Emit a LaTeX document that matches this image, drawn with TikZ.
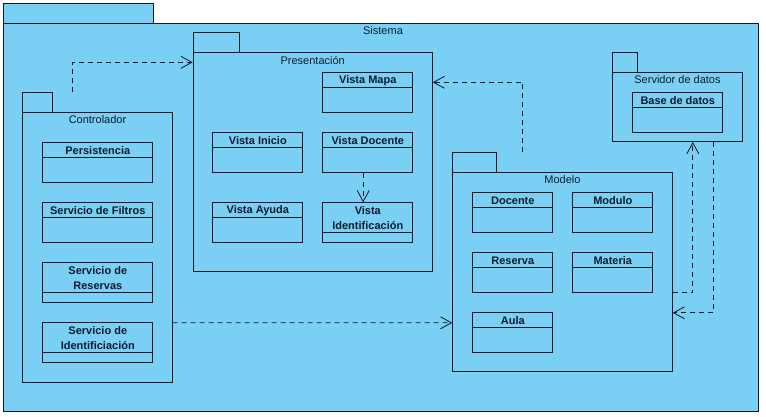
\documentclass[tikz,border=0pt]{standalone}
\usepackage{fontspec}
\setmainfont{Liberation Sans}
\usepackage{tikz}
\usetikzlibrary{arrows.meta,positioning,calc}
\definecolor{vpfill}{HTML}{7ACFF5}
\definecolor{vpline}{HTML}{101820}
\definecolor{vptext}{HTML}{0D1B2E}
\tikzset{
  pkg/.style={draw=vpline, fill=vpfill, line width=1pt, anchor=north west, inner sep=0pt},
  pkgtab/.style={pkg, minimum height=20pt},
  pkglabel/.style={anchor=north, inner sep=3.5pt, text=vptext, font=\fontsize{11}{13}\selectfont},
  cls/.style={draw=vpline, fill=vpfill, line width=1pt, anchor=north west, inner sep=0pt, minimum width=90pt, minimum height=40pt},
  clshead/.style={draw=vpline, line width=1pt, anchor=north, inner sep=0pt, minimum width=90pt, minimum height=15pt, align=center, text=vptext, font=\bfseries\fontsize{11}{15}\selectfont},
  dep/.style={draw=vpline, line width=0.8pt, dash pattern=on 5pt off 4pt, -{Straight Barb[length=11pt,width=12pt,line width=0.8pt]}}
}
\begin{document}
\begin{tikzpicture}[x=1pt, y=-1pt]
    \useasboundingbox (0,0) rectangle (766,416);

    % Sistema
    \node[pkgtab, minimum width=150.6pt] (sistab) at (2.7,2.7) {};
    \node[pkg, minimum width=755.6pt, minimum height=388pt] (sis) at (2.7,22.7) {};
    \node[pkglabel] (sis-l) at ([xshift=2pt]sis.north) {Sistema};

    % Presentacion
    \node[pkgtab, minimum width=46.6pt] (prestab) at (192.7,32.3) {};
    \node[pkg, minimum width=239pt, minimum height=218.7pt] (pres) at (192.7,52.3) {};
    \node[pkglabel] (pres-l) at (pres.north) {Presentación};

    % Controlador
    \node[pkgtab, minimum width=29.4pt] (ctrltab) at (22.3,92.3) {};
    \node[pkg, minimum width=149.4pt, minimum height=269.4pt] (ctrl) at (22.3,112.3) {};
    \node[pkglabel] (ctrl-l) at (ctrl.north) {Controlador};

    % Modelo
    \node[pkgtab, minimum width=43.4pt] (modtab) at (452.3,152.3) {};
    \node[pkg, minimum width=219.4pt, minimum height=198.7pt] (mod) at (452.3,172.3) {};
    \node[pkglabel] (mod-l) at (mod.north) {Modelo};

    % Servidor de datos
    \node[pkgtab, minimum width=25pt] (servtab) at (612.3,52.3) {};
    \node[pkg, minimum width=129.4pt, minimum height=68.7pt] (serv) at (612.3,72.3) {};
    \node[pkglabel] (serv-l) at (serv.north) {Servidor de datos};

    % clases de Presentacion
    \node[cls] (vmapa) at (322.3,72.3) {};
    \node[clshead] (vmapa-n) at (vmapa.north) {Vista Mapa};
    \node[cls] (vinicio) at (212.3,132.3) {};
    \node[clshead] (vinicio-n) at (vinicio.north) {Vista Inicio};
    \node[cls] (vdoc) at (322.3,132.3) {};
    \node[clshead] (vdoc-n) at (vdoc.north) {Vista Docente};
    \node[cls] (vayuda) at (212.3,202.3) {};
    \node[clshead] (vayuda-n) at (vayuda.north) {Vista Ayuda};
    \node[cls] (vident) at (322.3,202.3) {};
    \node[clshead, minimum height=30pt] (vident-n) at (vident.north) {Vista\\Identificación};

    % clases de Controlador
    \node[cls, minimum width=110pt] (persis) at (42.3,142.3) {};
    \node[clshead, minimum width=110pt] (persis-n) at (persis.north) {Persistencia};
    \node[cls, minimum width=110pt] (sfiltros) at (42.3,202.3) {};
    \node[clshead, minimum width=110pt] (sfiltros-n) at (sfiltros.north) {Servicio de Filtros};
    \node[cls, minimum width=110pt] (sreservas) at (42.3,262.3) {};
    \node[clshead, minimum width=110pt, minimum height=30pt] (sreservas-n) at (sreservas.north) {Servicio de\\Reservas};
    \node[cls, minimum width=110pt] (sident) at (42.3,322.3) {};
    \node[clshead, minimum width=110pt, minimum height=30pt] (sident-n) at (sident.north) {Servicio de\\Identificiación};

    % clases de Modelo
    \node[cls, minimum width=80pt] (docente) at (472.3,192.3) {};
    \node[clshead, minimum width=80pt] (docente-n) at (docente.north) {Docente};
    \node[cls, minimum width=80pt] (modulo) at (572.3,192.3) {};
    \node[clshead, minimum width=80pt] (modulo-n) at (modulo.north) {Modulo};
    \node[cls, minimum width=80pt] (reserva) at (472.3,252.3) {};
    \node[clshead, minimum width=80pt] (reserva-n) at (reserva.north) {Reserva};
    \node[cls, minimum width=80pt] (materia) at (572.3,252.3) {};
    \node[clshead, minimum width=80pt] (materia-n) at (materia.north) {Materia};
    \node[cls, minimum width=80pt] (aula) at (472.3,312.3) {};
    \node[clshead, minimum width=80pt] (aula-n) at (aula.north) {Aula};

    % clase de Servidor
    \node[cls] (bdatos) at (632.3,92.3) {};
    \node[clshead] (bdatos-n) at (bdatos.north) {Base de datos};

    % dependencias
    \draw[dep] ([xshift=-24.7pt]ctrl.north |- ctrltab.north) |- ([yshift=-10pt]pres.north west);
    \draw[dep] ([xshift=-39.7pt]mod.north |- modtab.north) |- ([yshift=-30pt]pres.north east);
    \draw[dep] ([yshift=-75.3pt]ctrl.east) -- ([yshift=-50.65pt]mod.west);
    \draw[dep] ([xshift=-4.6pt]vdoc.south) -- ([xshift=-4.6pt]vident.north);
    \draw[dep] ([yshift=-20.65pt]mod.east) -| ([xshift=15.3pt]serv.south);
    \draw[dep] ([xshift=35.7pt]serv.south) |- ([yshift=-40.65pt]mod.east);
  \end{tikzpicture}
\end{document}
